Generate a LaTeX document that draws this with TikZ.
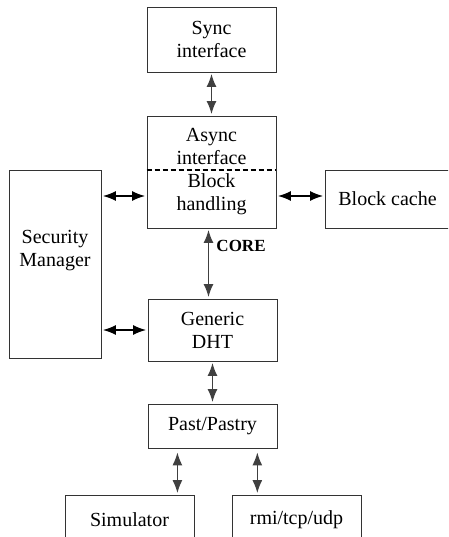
\documentclass[tikz,border=0pt]{standalone}
\usepackage{fontspec}
\setmainfont{Liberation Serif}
\usetikzlibrary{arrows.meta,calc}

\begin{document}
\begin{tikzpicture}[x=1pt,y=-1pt,
    box/.style={draw=black!80, line width=0.9pt, align=center, inner sep=0pt, font=\fontsize{20}{23}\selectfont},
    link/.style={{Latex[length=13pt,width=10pt]}-{Latex[length=13pt,width=10pt]}, line width=1.3pt, draw=black!75, shorten <=1.5pt, shorten >=1.5pt},
    hlink/.style={link, draw=black}]
    \useasboundingbox (0,0) rectangle (448,537);
    \clip (0,0) rectangle (448,537);

    % Interface layers
    \node[box, minimum width=129pt, minimum height=65pt] (sync) at (211.5,39.5) {Sync\\interface};
    \node[box, minimum width=129pt, minimum height=112pt] (core) at (211.5,172) {Async\\interface\\Block\\handling};
    \draw[dashed, dash pattern=on 5pt off 3pt, line width=1.2pt] ([yshift=2pt]core.west) -- ([yshift=2pt]core.east);

    % Side components
    \node[box, minimum width=125pt, minimum height=58pt] (cache) at (387.5,199) {Block cache};
    \node[box, minimum width=92pt, minimum height=188pt] (secmgr) at (55,264) {};
    \node[align=center, font=\fontsize{20}{23}\selectfont] (secmgrtext) at (55,251) {Security\\Manager};

    % Lower layers
    \node[box, minimum width=129pt, minimum height=62pt] (dht) at (212.5,330) {Generic\\DHT};
    \node[box, minimum width=129pt, minimum height=44pt] (past) at (212.5,426) {Past/Pastry};
    \node[box, minimum width=129pt, minimum height=50pt] (sim) at (129.5,520) {Simulator};
    \node[box, minimum width=129pt, minimum height=50pt] (net) at (296.5,520) {rmi/tcp/udp};

    % Links
    \draw[link] (sync.south) -- (core.north);
    \coordinate (blkw) at ([yshift=-24pt]core.west);
    \coordinate (blke) at ([yshift=-24pt]core.east);
    \draw[hlink] (blkw) -- (secmgr.east |- blkw);
    \draw[hlink] (blke) -- (cache.west |- blke);
    \draw[link] ([xshift=-3pt]core.south) -- node[pos=0.25, anchor=west, xshift=4pt, font=\bfseries\fontsize{17}{20}\selectfont] (corelabel) {CORE} ([xshift=-3pt]core.south |- dht.north);
    \draw[hlink] (dht.west) -- (secmgr.east |- dht.west);
    \draw[link] (dht.south) -- (past.north);
    \coordinate (pastl) at ($(past.south west)!0.23!(past.south east)$);
    \coordinate (pastr) at ($(past.south west)!0.845!(past.south east)$);
    \draw[link, shorten <=4pt] (pastl) -- (pastl |- sim.north);
    \draw[link, shorten <=4pt] (pastr) -- (pastr |- net.north);
\end{tikzpicture}
\end{document}
